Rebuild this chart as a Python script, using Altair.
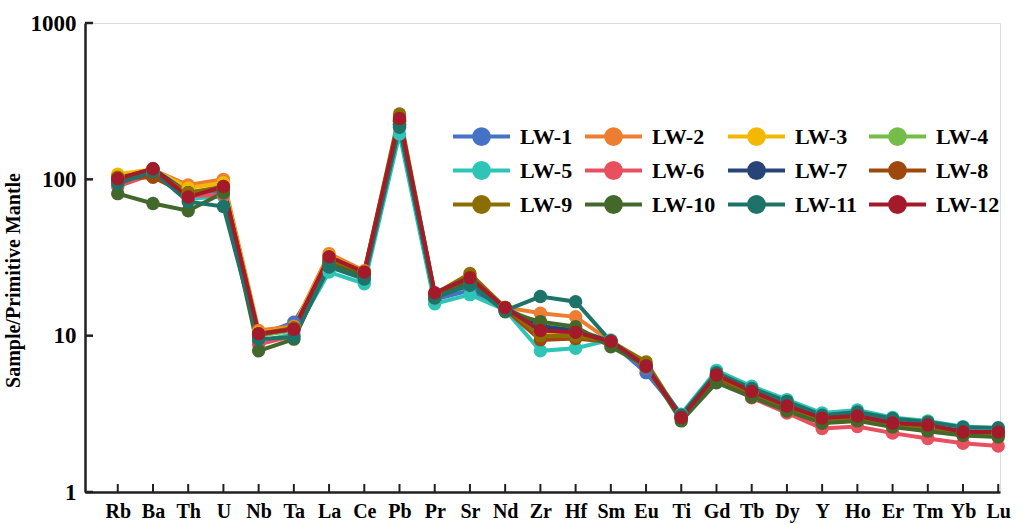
import altair as alt
import pandas as pd

elements = ["Rb", "Ba", "Th", "U", "Nb", "Ta", "La", "Ce", "Pb", "Pr", "Sr", "Nd", "Zr",
            "Hf", "Sm", "Eu", "Ti", "Gd", "Tb", "Dy", "Y", "Ho", "Er", "Tm", "Yb", "Lu"]

samples = ["LW-1", "LW-2", "LW-3", "LW-4", "LW-5", "LW-6",
           "LW-7", "LW-8", "LW-9", "LW-10", "LW-11", "LW-12"]

colors = ["#4472C4", "#ED7D31", "#F2B900", "#74BD48", "#2EC4B6", "#E8505F",
          "#264478", "#9E480E", "#8C6D00", "#43682B", "#1E7369", "#A31B2A"]

lw1 = [98, 113, 80, 85, 10.0, 12.2, 28, 23.5, 225, 17.0, 19.5, 14.8, 10.6, 10.3, 9.1, 5.8, 3.1, 5.7, 4.4, 3.6, 3.0, 3.1, 2.8, 2.65, 2.45, 2.42]
lw2 = [106, 115, 92, 100, 10.8, 11.5, 33.5, 26, 240, 18.5, 23.5, 15.2, 13.9, 13.2, 9.2, 6.5, 3.0, 5.6, 4.35, 3.55, 2.95, 3.05, 2.75, 2.6, 2.4, 2.38]
lw3 = [108, 116, 88, 95, 10.4, 11.3, 32.5, 25.5, 250, 18.5, 24, 15.0, 10.2, 10.0, 9.2, 6.6, 3.0, 5.5, 4.3, 3.5, 2.9, 3.0, 2.7, 2.55, 2.38, 2.35]
lw4 = [100, 112, 82, 88, 10.0, 10.8, 30, 25, 235, 18, 22.5, 14.9, 12.0, 11.0, 9.2, 6.4, 3.0, 5.5, 4.3, 3.5, 2.9, 3.0, 2.7, 2.6, 2.4, 2.38]
lw5 = [92, 110, 75, 78, 9.2, 10.2, 25.5, 21.5, 195, 16.0, 18.3, 14.6, 8.0, 8.3, 9.4, 6.3, 3.15, 6.0, 4.75, 3.9, 3.2, 3.35, 3.0, 2.85, 2.62, 2.55]
lw6 = [90, 108, 78, 80, 8.8, 10.0, 29, 24, 225, 17.5, 21.5, 14.7, 11.0, 10.3, 8.9, 6.2, 2.95, 5.3, 4.0, 3.2, 2.55, 2.62, 2.38, 2.2, 2.05, 1.97]
lw7 = [100, 117, 82, 88, 10.1, 11.2, 30.5, 25, 235, 18, 22.5, 15.0, 11.5, 10.8, 9.2, 6.4, 3.0, 5.6, 4.4, 3.55, 2.95, 3.05, 2.75, 2.65, 2.45, 2.42]
lw8 = [102, 103, 80, 88, 10.2, 11.0, 30, 25, 240, 18, 23, 14.8, 9.4, 9.6, 9.1, 6.5, 2.95, 5.4, 4.2, 3.45, 2.85, 2.95, 2.65, 2.5, 2.35, 2.3]
lw9 = [103, 112, 82, 90, 10.3, 11.2, 31, 25.5, 262, 18.5, 25, 15.1, 10.0, 9.9, 9.2, 6.8, 3.0, 5.5, 4.3, 3.5, 2.9, 3.0, 2.7, 2.6, 2.4, 2.35]
lw10 = [81, 70, 63, 82, 8.0, 9.5, 28.5, 24, 220, 17.5, 22, 14.2, 12.3, 11.4, 8.5, 6.4, 2.85, 5.0, 4.05, 3.3, 2.75, 2.85, 2.6, 2.45, 2.3, 2.25]
lw11 = [94, 112, 72, 67, 9.5, 9.8, 27.5, 23, 215, 17.5, 21, 14.5, 17.8, 16.5, 9.2, 6.3, 3.1, 5.8, 4.6, 3.8, 3.1, 3.25, 2.95, 2.8, 2.6, 2.58]
lw12 = [101, 117, 77, 90, 10.3, 11.0, 32, 25.5, 245, 18.8, 23.5, 15.1, 10.8, 10.5, 9.2, 6.4, 3.0, 5.6, 4.4, 3.55, 2.97, 3.06, 2.76, 2.68, 2.42, 2.42]

series = [lw1, lw2, lw3, lw4, lw5, lw6, lw7, lw8, lw9, lw10, lw11, lw12]

y_ticks = [1, 10, 100, 1000]

rows = []
for si, (name, vals) in enumerate(zip(samples, series)):
    for i, v in enumerate(vals):
        rows.append({"sample": name, "order": si, "idx": i, "element": elements[i], "value": v})
df = pd.DataFrame(rows)

W, H = 915, 469
FONT = "Liberation Serif"
AXIS_COLOR = "#231f20"

label_expr = "[" + ",".join("'" + e + "'" for e in elements) + "][datum.value]"

x_scale = alt.Scale(domain=[-0.93, 25.05], nice=False, zero=False)
y_scale = alt.Scale(type="log", domain=[1, 1000], nice=False)

x_enc = alt.X("idx:Q", scale=x_scale,
              axis=alt.Axis(values=list(range(len(elements))), tickCount=40,
                            labelExpr=label_expr,
                            title=None, ticks=False, grid=False, labelFont=FONT,
                            labelFontWeight="bold", labelFontSize=20, labelColor="black",
                            labelPadding=9, domainColor=AXIS_COLOR, domainWidth=2.5,
                            labelFlush=False, labelOverlap=False))
y_enc = alt.Y("value:Q", scale=y_scale,
              axis=alt.Axis(values=y_ticks, tickCount=10, format="d",
                            title="Sample/Primitive Mantle",
                            ticks=False, grid=False, labelFont=FONT, labelFontWeight="bold",
                            labelFontSize=23, labelColor="black", labelPadding=9,
                            titleFont=FONT, titleFontWeight="bold", titleFontSize=20,
                            titleColor="black", titlePadding=7, titleY=257,
                            domainColor=AXIS_COLOR, domainWidth=2.5))

legend_path = "M-2,0H2M0.52,0A0.52,0.52,0,1,1,-0.52,0A0.52,0.52,0,1,1,0.52,0Z"

color_enc = alt.Color("sample:N", scale=alt.Scale(domain=samples, range=colors),
                      sort=samples,
                      legend=alt.Legend(title=None, orient="none", legendX=380, legendY=97,
                                        columns=4, direction="horizontal",
                                        symbolType=legend_path,
                                        symbolSize=812, symbolStrokeWidth=4,
                                        labelFont=FONT, labelFontWeight="bold",
                                        labelFontSize=22, labelColor="black",
                                        labelOffset=22, columnPadding=4, rowPadding=2,
                                        labelLimit=200))

lines = alt.Chart(df).mark_line(strokeWidth=4).encode(
    x=x_enc, y=y_enc, color=color_enc, detail="sample:N", order="idx:Q"
)

points = alt.Chart(df).mark_circle(size=180, opacity=1).encode(
    x=alt.X("idx:Q", scale=x_scale), y=alt.Y("value:Q", scale=y_scale),
    color=alt.Color("sample:N", scale=alt.Scale(domain=samples, range=colors), legend=None),
    order="order:Q"
)

ytick_df = pd.DataFrame({"value": y_ticks})
ytick = alt.Chart(ytick_df).mark_rule(color=AXIS_COLOR, strokeWidth=2.5).encode(
    x=alt.value(0), x2=alt.value(8), y=alt.Y("value:Q", scale=y_scale)
)
xtick_df = pd.DataFrame({"idx": list(range(len(elements)))})
xtick = alt.Chart(xtick_df).mark_rule(color=AXIS_COLOR, strokeWidth=2).encode(
    x=alt.X("idx:Q", scale=x_scale), y=alt.value(H - 8), y2=alt.value(H)
)

chart = alt.layer(lines, points, ytick, xtick).properties(
    width=W, height=H,
    padding={"left": 85, "top": 23, "right": 24, "bottom": 32},
    autosize=alt.AutoSizeParams(type="none"),
).configure_view(stroke=None).configure(background="white")

chart.save("out.html", embed_options={"renderer": "svg", "actions": False})
